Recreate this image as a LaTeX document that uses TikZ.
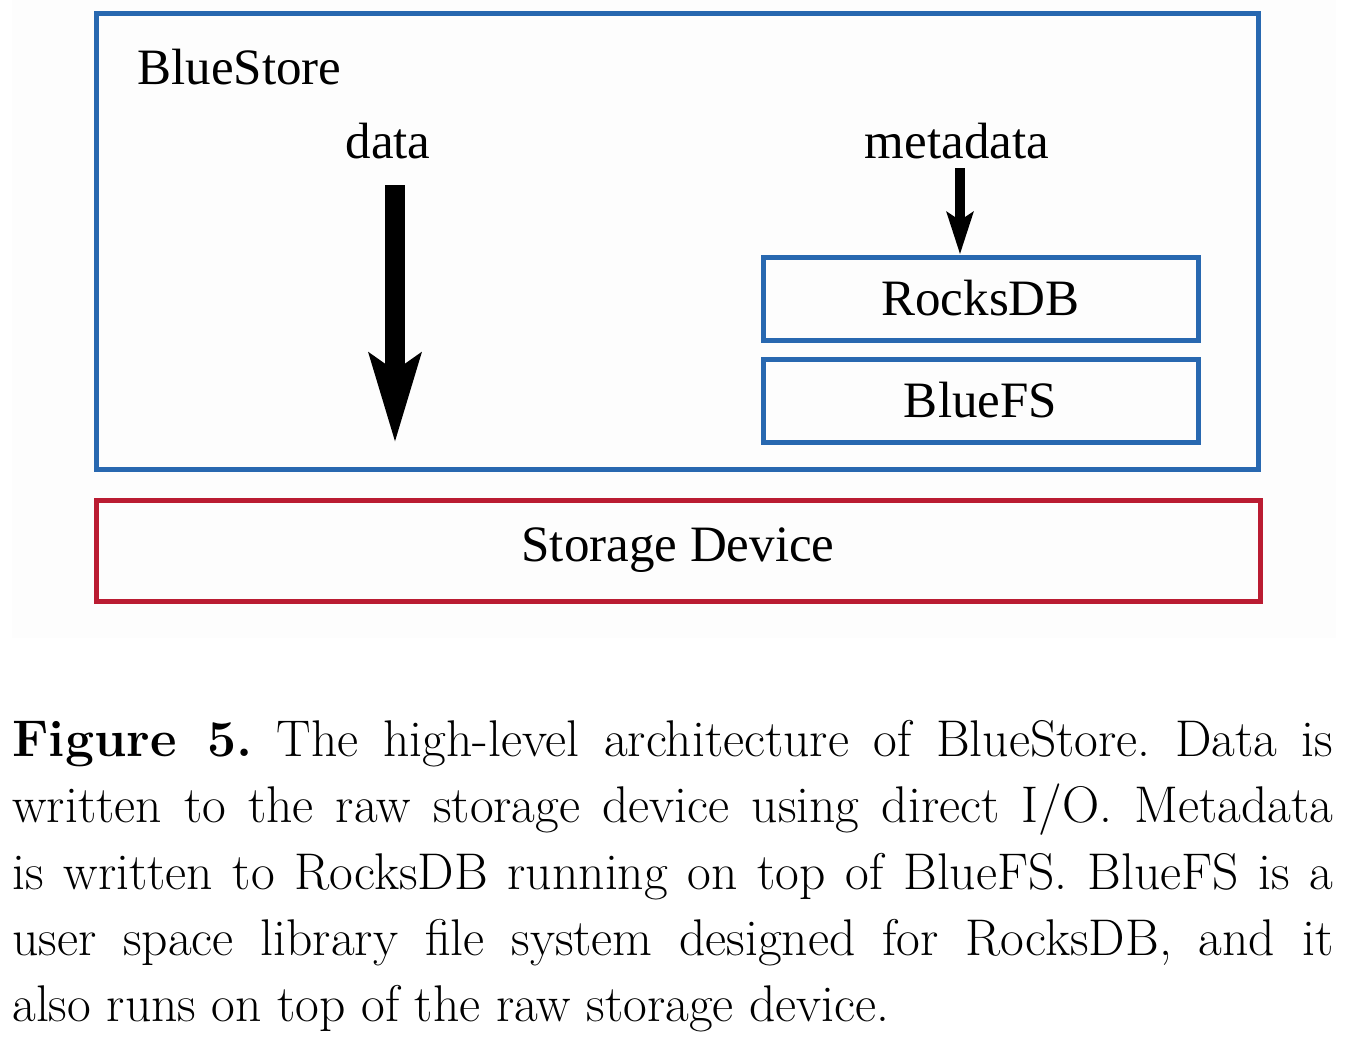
\documentclass[tikz,border=0pt]{standalone}
\usepackage{fontspec}
\usepackage{tikz}
\usetikzlibrary{arrows.meta}
\newfontfamily\tnr{Liberation Serif}
\definecolor{bsblue}{RGB}{40,104,176}
\definecolor{bsred}{RGB}{186,28,50}
\newcommand\diafont{\tnr\fontsize{25.5pt}{30pt}\selectfont}
\frenchspacing

\begin{document}
\begin{tikzpicture}[x=0.5pt,y=-0.5pt,
    layer/.style={draw=bsblue, line width=2.5pt, inner sep=0pt, font=\diafont},
    device/.style={layer, draw=bsred},
    lbl/.style={inner sep=0pt, font=\diafont},
    flow/.style={-{Stealth[length=44pt,width=25pt,inset=8pt]}, line width=10pt},
    metaflow/.style={-{Stealth[length=21pt,width=13pt,inset=4pt]}, line width=5pt},
    capnode/.style={inner sep=0pt, text width=660.5pt, align=justify,
      font=\fontsize{25.8pt}{33.1pt}\selectfont}]
    \useasboundingbox (0,0) rectangle (1348,1038);
    \fill[black!0.8] (12,0) rectangle (1336,638);

    \node[layer, minimum width=581pt, minimum height=227.5pt] (bluestore) at (677,241.5) {};
    \node[lbl, anchor=base west] (bstitle) at (137,85) {BlueStore};
    \node[lbl, anchor=base] (data) at (388,158) {data};
    \node[lbl, anchor=base] (meta) at (957,158) {metadata};
    \node[layer, minimum width=217.5pt, minimum height=41.5pt] (rocksdb) at (980.5,298.5) {RocksDB};
    \node[layer, minimum width=217.5pt, minimum height=41.5pt] (bluefs) at (980.5,400.5) {BlueFS};
    \node[device, minimum width=582pt, minimum height=50.5pt] (storage) at (678,550.5) {Storage Device};

    \coordinate (datatop) at (395,185);
    \coordinate (dataend) at (395,443);
    \coordinate (metatop) at (960,168);
    \draw[flow] (datatop) -- (dataend);
    \draw[metaflow] (metatop) -- (metatop |- rocksdb.north);

    \node[capnode, anchor=north west] (caption) at (12,720) {%
      \textbf{Figure 5.} The high-level architecture of BlueStore. Data is\linebreak
      written to the raw storage device using direct I/O. Metadata\linebreak
      is written to RocksDB running on top of BlueFS. BlueFS is a\linebreak
      user space library file system designed for RocksDB, and it\linebreak
      also runs on top of the raw storage device.};
\end{tikzpicture}
\end{document}
